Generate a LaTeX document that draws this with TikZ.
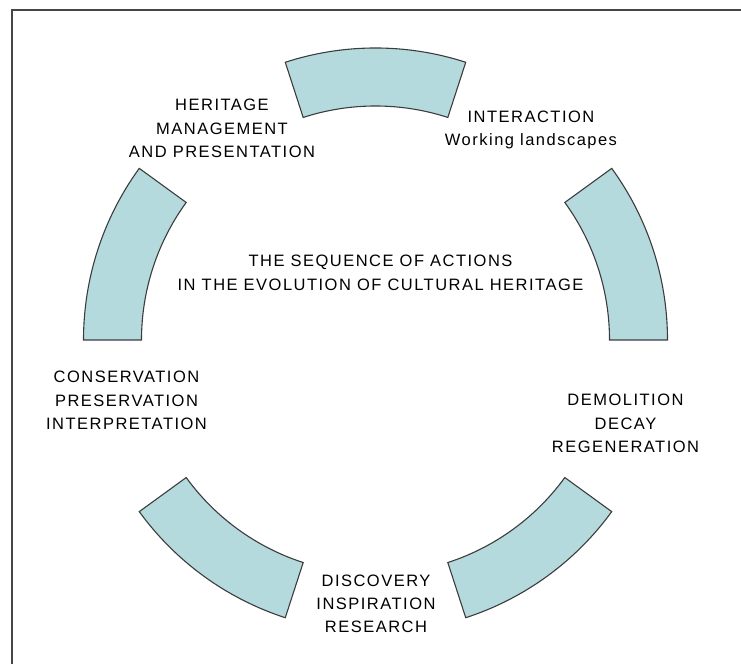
\documentclass[tikz,border=0pt]{standalone}
\usepackage{fontspec}
\newfontfamily\labelfont{Liberation Sans}[LetterSpace=9]
\usetikzlibrary{calc}
\definecolor{segfill}{RGB}{180,218,222}
\definecolor{segline}{RGB}{60,60,60}
\definecolor{framecol}{RGB}{70,70,70}
\begin{document}
\begin{tikzpicture}[x=1pt,y=1pt,
  seg/.style={fill=segfill, draw=segline, line width=1.1pt, line join=miter},
  lbl/.style={align=center, font=\labelfont\fontsize{16.5}{23.3}\selectfont, inner sep=0pt, text=black}]
\useasboundingbox (0,0) rectangle (741,664);
% open frame: left and top edges only
\draw[framecol, line width=1.6pt] (12,0) -- (12,654) -- (741,654);
% ring of five curved segments
\coordinate (c) at (375.5,324);
\foreach \a in {0,72,144,216,288} {
  \pgfmathsetmacro\b{\a+36}
  \draw[seg] ($(c)+(\a:292)$) arc[start angle=\a, end angle=\b, radius=292]
    -- ($(c)+(\b:234)$) arc[start angle=\b, end angle=\a, radius=234] -- cycle;
}
% labels
\node[lbl] (heritage) at (222,535.5) {HERITAGE\\MANAGEMENT\\AND PRESENTATION};
\node[lbl] (interaction) at (531,533.7) {INTERACTION\\Working landscapes};
\node[lbl] (title) at (380.5,391.2) {THE SEQUENCE OF ACTIONS\\IN THE EVOLUTION OF CULTURAL HERITAGE};
\node[lbl] (conservation) at (126.5,263.5) {CONSERVATION\\PRESERVATION\\INTERPRETATION};
\node[lbl] (demolition) at (625.5,240.5) {DEMOLITION\\DECAY\\REGENERATION};
\node[lbl] (discovery) at (376,60) {DISCOVERY\\INSPIRATION\\RESEARCH};
\end{tikzpicture}
\end{document}
